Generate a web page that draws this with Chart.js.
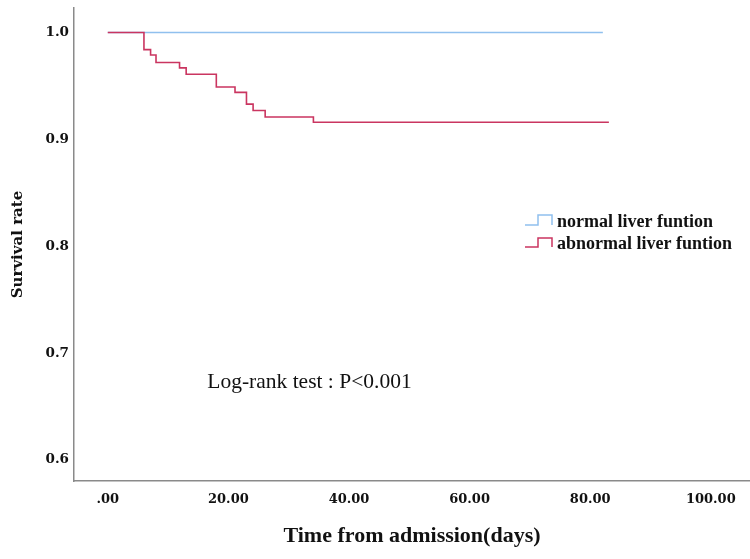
<!DOCTYPE html>
<html>
<head>
<meta charset="utf-8">
<script src="https://cdn.jsdelivr.net/npm/chart.js@4"></script>
<style>
  html, body { margin: 0; padding: 0; background: #fff; }
  #wrap { width: 750px; height: 559px; }
</style>
</head>
<body>
<div id="wrap"><canvas id="kmChart" width="750" height="559"></canvas></div>
<script>
// Kaplan-Meier curves (days, survival)
const normalTimes = [0, 82.1];
const normalSurv = [1.0, 1.0];

const abnormalTimes = [0, 6.0, 7.1, 8.0, 11.9, 13.0, 18.0, 21.1, 23.0, 24.1, 26.1, 34.1, 83.1];
const abnormalSurv = [1.0, 0.984, 0.979, 0.972, 0.967, 0.961, 0.949, 0.944, 0.933, 0.927, 0.921, 0.916, 0.916];

const seriesLabels = ['normal liver funtion', 'abnormal liver funtion'];
const seriesColors = ['#90c0ee', '#ca3560'];

const xTicks = [0, 20, 40, 60, 80, 100];
const yTicks = [0.6, 0.7, 0.8, 0.9, 1.0];

const annotationText = 'Log-rank test : P<0.001';

function toPoints(xs, ys) {
  return xs.map((x, i) => ({ x: x, y: ys[i] }));
}

// Legenda com ícone em degrau, à direita
const stepLegend = {
  id: 'stepLegend',
  afterDraw(chart) {
    const ctx = chart.ctx;
    const rows = [
      { low: 225, high: 215, text: 222 },
      { low: 247, high: 238, text: 244 }
    ];
    ctx.save();
    seriesLabels.forEach((label, i) => {
      const r = rows[i];
      ctx.strokeStyle = seriesColors[i];
      ctx.lineWidth = 1.5;
      ctx.beginPath();
      ctx.moveTo(525, r.low);
      ctx.lineTo(538, r.low);
      ctx.lineTo(538, r.high);
      ctx.lineTo(552, r.high);
      ctx.lineTo(552, r.low);
      ctx.stroke();
      ctx.fillStyle = '#111';
      ctx.font = 'bold 18px "Liberation Serif"';
      ctx.textAlign = 'left';
      ctx.textBaseline = 'middle';
      ctx.fillText(label, 557, r.text);
    });
    ctx.restore();
  }
};

// Texto do teste log-rank
const logRankText = {
  id: 'logRankText',
  afterDraw(chart) {
    const ctx = chart.ctx;
    const x = chart.scales.x.getPixelForValue(16.5);
    const y = chart.scales.y.getPixelForValue(0.673);
    ctx.save();
    ctx.fillStyle = '#111';
    ctx.font = '21.5px "Liberation Serif"';
    ctx.textAlign = 'left';
    ctx.textBaseline = 'middle';
    ctx.fillText(annotationText, x, y);
    ctx.restore();
  }
};

new Chart(document.getElementById('kmChart'), {
  type: 'line',
  data: {
    datasets: [
      {
        label: seriesLabels[0],
        data: toPoints(normalTimes, normalSurv),
        borderColor: seriesColors[0],
        borderWidth: 1.6,
        pointRadius: 0,
        stepped: 'before',
        fill: false,
        order: 1
      },
      {
        label: seriesLabels[1],
        data: toPoints(abnormalTimes, abnormalSurv),
        borderColor: seriesColors[1],
        borderWidth: 1.6,
        pointRadius: 0,
        stepped: 'before',
        fill: false,
        order: 0
      }
    ]
  },
  plugins: [stepLegend, logRankText],
  options: {
    responsive: false,
    animation: false,
    layout: { padding: { top: 8, right: 0, left: 0, bottom: 9 } },
    plugins: {
      legend: { display: false },
      tooltip: { enabled: false }
    },
    scales: {
      x: {
        type: 'linear',
        min: -5.6,
        max: 106.5,
        afterBuildTicks(scale) {
          scale.ticks = xTicks.map(v => ({ value: v }));
        },
        afterFit(scale) {
          scale.height = 69;
          scale.paddingLeft = 0;
          scale.paddingRight = 0;
        },
        grid: { display: false, drawTicks: false },
        border: { display: true, color: '#8a8a8a', width: 1.5 },
        ticks: {
          padding: 11,
          color: '#111',
          font: { family: '"DejaVu Serif"', size: 13, weight: 'bold' },
          callback: v => (v === 0 ? '.00' : v.toFixed(2))
        },
        title: {
          display: true,
          text: 'Time from admission(days)',
          color: '#111',
          font: { family: '"Liberation Serif"', size: 22, weight: 'bold' },
          padding: { top: 3, bottom: 0 }
        }
      },
      y: {
        type: 'linear',
        min: 0.5803,
        max: 1.023,
        afterBuildTicks(scale) {
          scale.ticks = yTicks.map(v => ({ value: v }));
        },
        afterFit(scale) {
          scale.width = 74;
          scale.paddingTop = 0;
          scale.paddingBottom = 0;
        },
        grid: { display: false, drawTicks: false },
        border: { display: true, color: '#8a8a8a', width: 1.5 },
        ticks: {
          padding: 5,
          color: '#111',
          font: { family: '"DejaVu Serif"', size: 13.5, weight: 'bold' },
          callback: v => v.toFixed(1)
        },
        title: {
          display: true,
          text: 'Survival rate',
          color: '#111',
          font: { family: '"DejaVu Serif"', size: 15, weight: 'bold' },
          padding: { top: 9, bottom: 0 }
        }
      }
    }
  }
});
</script>
</body>
</html>
